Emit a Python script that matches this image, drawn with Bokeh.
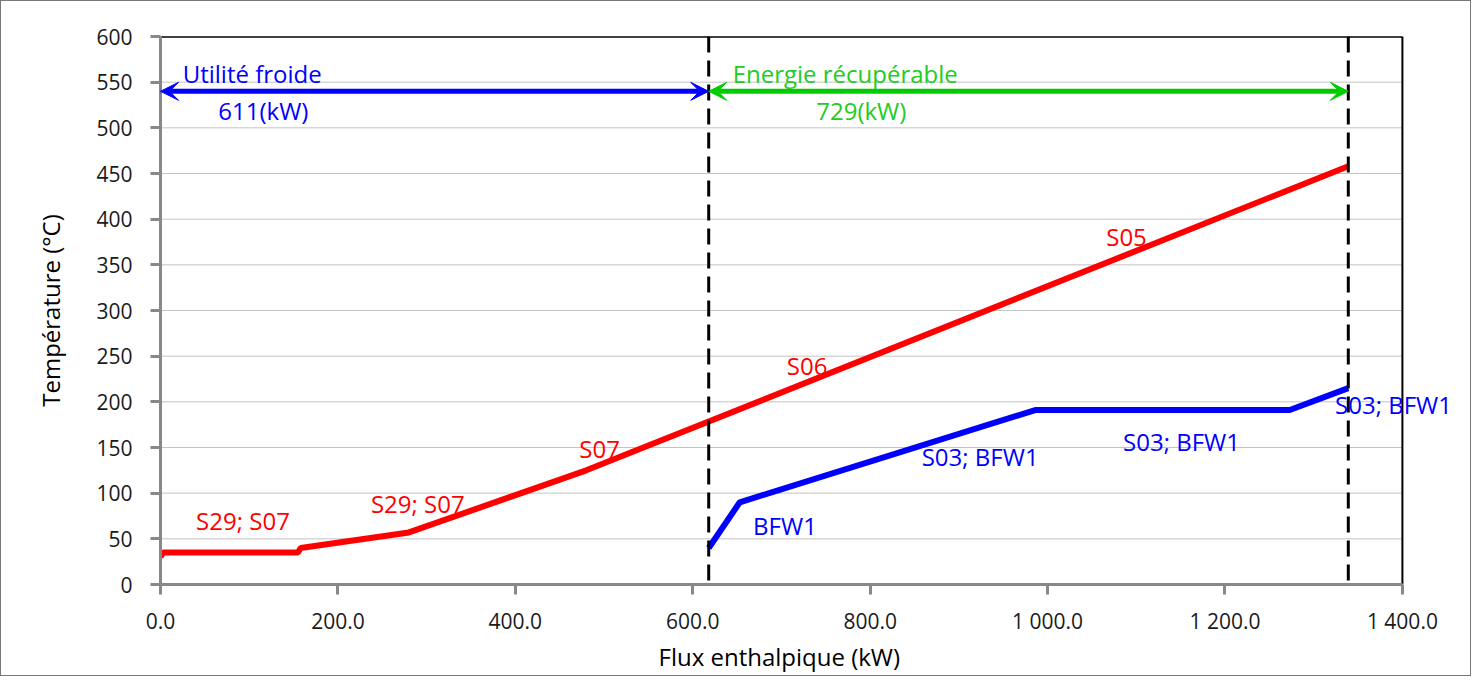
from bokeh.plotting import figure
from bokeh.models import (Range1d, FixedTicker, Label, Arrow, VeeHead, Span, Title)
from bokeh.embed import file_html
from bokeh.resources import INLINE

# ---- data ----
hot_x = [0, 3, 155, 158, 280, 480, 1339]
hot_t = [30, 35, 35, 40, 57, 125, 458]
cold_x = [618, 653, 986, 1273, 1339]
cold_t = [40, 90, 191, 191, 215]

pinch_x = [618, 1339]
arrow_t = 540

x_ticks = [0, 200, 400, 600, 800, 1000, 1200, 1400]
x_tick_labels = ["0.0", "200.0", "400.0", "600.0", "800.0", "1 000.0", "1 200.0", "1 400.0"]
y_ticks = list(range(0, 601, 50))

hot_labels = ["S29; S07", "S29; S07", "S07", "S06", "S05"]
hot_label_x = [93, 290, 495, 729, 1089]
hot_label_t = [70, 89, 149, 240, 381]

cold_labels = ["BFW1", "S03; BFW1", "S03; BFW1", "S03; BFW1"]
cold_label_x = [704, 924, 1151, 1390]
cold_label_t = [65, 140, 157, 197]

FONT = "Open Sans"
X_MIN, X_MAX = x_ticks[0], x_ticks[-1]
Y_MIN, Y_MAX = y_ticks[0], y_ticks[-1]

# frame extends to the right beyond the axis end so that the last label is not clipped
p = figure(width=1471, height=676, output_backend="svg", toolbar_location=None,
           x_range=Range1d(X_MIN, 1470), y_range=Range1d(Y_MIN, Y_MAX),
           min_border_left=159, min_border_right=8, min_border_top=35, min_border_bottom=93)
p.styles = {"border": "1px solid #777777"}

p.outline_line_color = None
p.background_fill_color = "white"
p.border_fill_color = "white"

# grid (drawn manually so it stops at the axis end)
p.xgrid.grid_line_color = None
p.ygrid.grid_line_color = None
gy = y_ticks[1:-1]
p.segment(x0=[X_MIN] * len(gy), y0=gy, x1=[X_MAX] * len(gy), y1=gy,
          line_color="#888888", line_width=1, line_dash="1 1")

# frame top and right borders
p.segment(x0=[X_MIN, X_MAX], y0=[Y_MAX, Y_MIN], x1=[X_MAX, X_MAX], y1=[Y_MAX, Y_MAX],
          line_color="black", line_width=2)
p.segment(x0=[X_MIN], y0=[Y_MAX], x1=[X_MAX], y1=[Y_MAX], line_color="black", line_width=2)

# axes
p.xaxis.ticker = FixedTicker(ticks=x_ticks)
p.xaxis.bounds = (X_MIN, X_MAX)
p.xaxis.major_label_overrides = {t: l for t, l in zip(x_ticks, x_tick_labels)}
p.yaxis.ticker = FixedTicker(ticks=y_ticks)
for ax in (p.xaxis[0], p.yaxis[0]):
    ax.axis_line_color = "#888888"
    ax.axis_line_width = 3
    ax.major_tick_line_color = "#888888"
    ax.major_tick_line_width = 3
    ax.major_tick_out = 10
    ax.major_tick_in = 0
    ax.minor_tick_line_color = None
    ax.major_label_text_font = FONT
    ax.major_label_text_font_size = "21px"
    ax.major_label_text_color = "#1a1a1a"
    ax.axis_label_text_font = FONT
    ax.axis_label_text_font_size = "24px"
    ax.axis_label_text_font_style = "normal"
    ax.axis_label_text_color = "black"

p.yaxis.axis_label = "Température (°C)"
p.xaxis.major_label_standoff = 12
p.yaxis.major_label_standoff = 18
p.yaxis.axis_label_standoff = 26

# x-axis title, centred under the 0..1400 axis (not under the extended frame)
p.add_layout(Title(text="Flux enthalpique (kW)", align="left", offset=498,
                   text_font=FONT, text_font_size="24px", text_font_style="normal",
                   text_color="black", standoff=0), "below")

# curves
p.line(hot_x, hot_t, line_color="#FF0000", line_width=6)
p.line(cold_x, cold_t, line_color="#0000FF", line_width=6)

# pinch dashed lines
for xv in pinch_x:
    p.add_layout(Span(location=xv, dimension="height", line_color="black",
                      line_width=3, line_dash="16 8"))

# arrows
p.add_layout(Arrow(x_start=X_MIN, y_start=arrow_t, x_end=pinch_x[0], y_end=arrow_t,
                   line_color="#0000FF", line_width=5,
                   start=VeeHead(size=18, fill_color="#0000FF", line_color="#0000FF"),
                   end=VeeHead(size=18, fill_color="#0000FF", line_color="#0000FF")))
p.add_layout(Arrow(x_start=pinch_x[0], y_start=arrow_t, x_end=pinch_x[1], y_end=arrow_t,
                   line_color="#00CC00", line_width=5,
                   start=VeeHead(size=18, fill_color="#00CC00", line_color="#00CC00"),
                   end=VeeHead(size=18, fill_color="#00CC00", line_color="#00CC00")))

def lab(x, y, txt, color, align="center"):
    p.add_layout(Label(x=x, y=y, text=txt, text_color=color, text_font=FONT,
                       text_font_size="24px", text_align=align, text_baseline="middle"))

lab(25, 559, "Utilité froide", "#0000FF", "left")
lab(116, 519, "611(kW)", "#0000FF")
lab(645, 559, "Energie récupérable", "#22CC22", "left")
lab(790, 519, "729(kW)", "#22CC22")

for t, xv, tv in zip(hot_labels, hot_label_x, hot_label_t):
    lab(xv, tv, t, "#FF0000")
for t, xv, tv in zip(cold_labels, cold_label_x, cold_label_t):
    lab(xv, tv, t, "#0000FF")

open("out.html", "w").write(file_html(p, INLINE))
